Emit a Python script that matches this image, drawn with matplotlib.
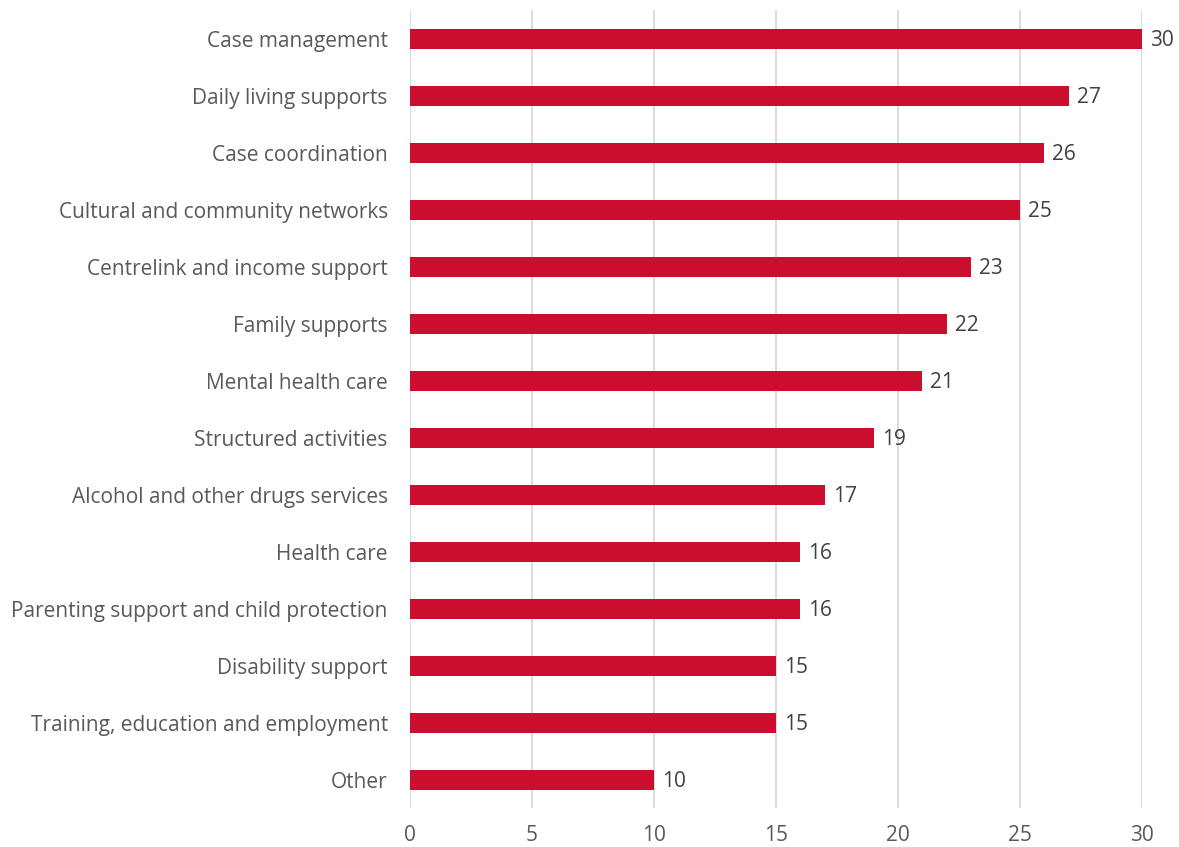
import matplotlib
matplotlib.use("Agg")
import matplotlib.pyplot as plt

categories = [
    "Case management",
    "Daily living supports",
    "Case coordination",
    "Cultural and community networks",
    "Centrelink and income support",
    "Family supports",
    "Mental health care",
    "Structured activities",
    "Alcohol and other drugs services",
    "Health care",
    "Parenting support and child protection",
    "Disability support",
    "Training, education and employment",
    "Other",
]
values = [30, 27, 26, 25, 23, 22, 21, 19, 17, 16, 16, 15, 15, 10]
x_ticks = [0, 5, 10, 15, 20, 25, 30]

plt.rcParams["font.family"] = ["Open Sans", "DejaVu Sans"]

fig = plt.figure(figsize=(11.79, 8.47), dpi=100)
ax = fig.add_axes([0.3478, 0.046, 0.6208, 0.942])

pos = list(range(len(categories)))
ax.barh(pos, values, height=0.35, color="#CC0E2E", zorder=3)
for p, v in zip(pos, values):
    ax.text(v + 0.33, p + 0.03, f"{v}", va="center", ha="left", fontsize=15, color="#404040")

ax.set_ylim(len(categories) - 0.5, -0.5)
ax.set_yticks(pos)
ax.set_yticklabels(categories, fontsize=15, color="#595959")
ax.set_xlim(0, 30)
ax.set_xticks(x_ticks)
ax.set_xticklabels([str(t) for t in x_ticks], fontsize=15, color="#595959")
ax.grid(axis="x", color="#D9D9D9", linewidth=1.3, zorder=0)
for s in ax.spines.values():
    s.set_visible(False)
ax.tick_params(axis="both", length=0)
ax.tick_params(axis="y", pad=16)
ax.tick_params(axis="x", pad=12)

fig.savefig("out.png", dpi=100)
